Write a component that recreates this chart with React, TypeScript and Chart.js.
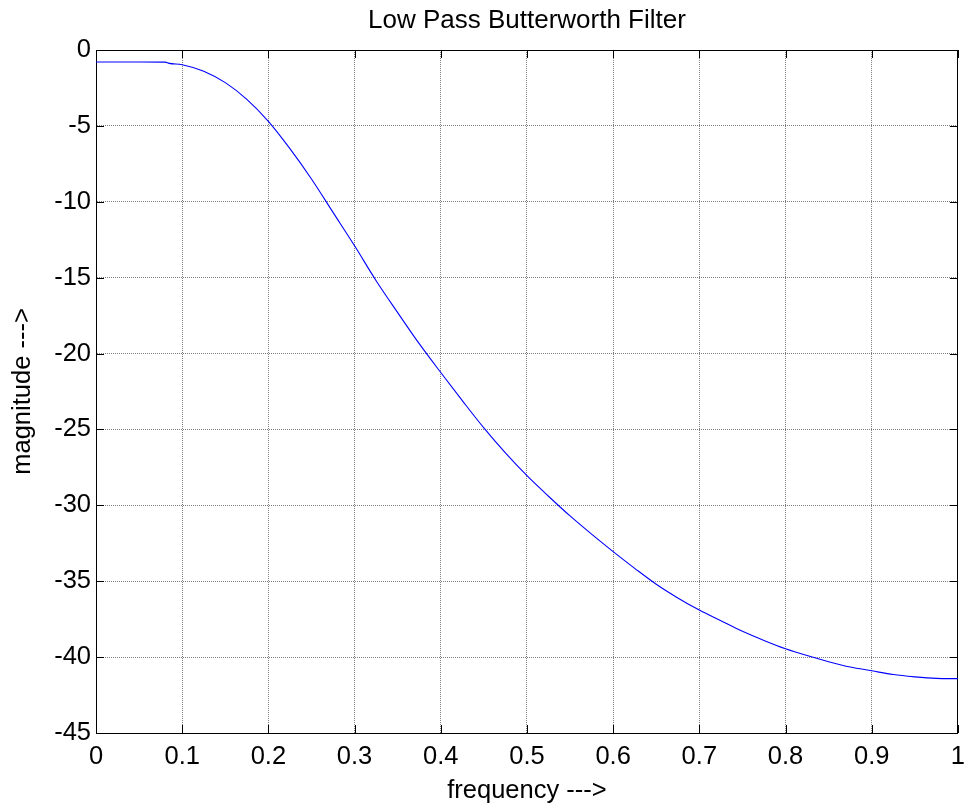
import React, { useEffect, useRef } from "react";
import { Chart, registerables } from "chart.js";

Chart.register(...registerables);

const TITLE = "Low Pass Butterworth Filter";
const X_LABEL = "frequency --->";
const Y_LABEL = "magnitude --->";

const frequency = [
  0, 0.05, 0.08, 0.085, 0.1, 0.125, 0.15, 0.175, 0.2, 0.225, 0.25, 0.275, 0.3,
  0.325, 0.35, 0.375, 0.4, 0.425, 0.45, 0.475, 0.5, 0.525, 0.55, 0.575, 0.6,
  0.625, 0.65, 0.675, 0.7, 0.725, 0.75, 0.775, 0.8, 0.825, 0.85, 0.875, 0.9,
  0.925, 0.95, 0.975, 1.0,
];
const magnitude = [
  -0.79, -0.79, -0.8, -0.88, -0.97, -1.4, -2.15, -3.25, -4.7, -6.5, -8.5, -10.7,
  -12.9, -15.2, -17.3, -19.35, -21.25, -23.1, -24.9, -26.55, -28.05, -29.4,
  -30.7, -31.9, -33.05, -34.15, -35.2, -36.1, -36.9, -37.6, -38.3, -38.9,
  -39.45, -39.9, -40.3, -40.65, -40.9, -41.15, -41.3, -41.4, -41.42,
];

const X_MIN = 0;
const X_MAX = 1;
const X_STEP = 0.1;
const Y_MIN = -45;
const Y_MAX = 0;
const Y_STEP = 5;

const FONT_FAMILY = "'Liberation Sans', Arial, Helvetica, sans-serif";

const inwardTicks = {
  id: "inwardTicks",
  afterDraw(chart: any) {
    const { ctx, chartArea, scales } = chart;
    const xs = scales.x;
    const ys = scales.y;
    const len = 8;
    ctx.save();
    ctx.strokeStyle = "#000";
    ctx.lineWidth = 1;
    ctx.beginPath();
    xs.ticks.forEach((t: any) => {
      const px = Math.round(xs.getPixelForValue(t.value)) + 0.5;
      ctx.moveTo(px, chartArea.bottom);
      ctx.lineTo(px, chartArea.bottom - len);
      ctx.moveTo(px, chartArea.top);
      ctx.lineTo(px, chartArea.top + len);
    });
    ys.ticks.forEach((t: any) => {
      const py = Math.round(ys.getPixelForValue(t.value)) + 0.5;
      ctx.moveTo(chartArea.left, py);
      ctx.lineTo(chartArea.left + len, py);
      ctx.moveTo(chartArea.right, py);
      ctx.lineTo(chartArea.right - len, py);
    });
    ctx.stroke();
    ctx.restore();
  },
};

export default function App() {
  const canvasRef = useRef<HTMLCanvasElement | null>(null);

  useEffect(() => {
    if (!canvasRef.current) return;
    const points = frequency.map((f, i) => ({ x: f, y: magnitude[i] }));
    const gridColor = "rgba(0,0,0,0.5)";
    const chart = new Chart(canvasRef.current, {
      type: "line",
      data: {
        datasets: [
          {
            data: points,
            borderColor: "#0000ff",
            borderWidth: 1.1,
            pointRadius: 0,
            fill: false,
            cubicInterpolationMode: "monotone",
            xAxisID: "x",
            yAxisID: "y",
          },
        ],
      },
      options: {
        responsive: false,
        animation: false,
        devicePixelRatio: 1,
        layout: { padding: 0 },
        plugins: {
          legend: { display: false },
          title: { display: false },
          tooltip: { enabled: false },
        },
        scales: {
          x: {
            type: "linear",
            position: "bottom",
            min: X_MIN,
            max: X_MAX,
            ticks: {
              stepSize: X_STEP,
              color: "#000",
              padding: 9,
              maxRotation: 0,
              font: { family: FONT_FAMILY, size: 25.5 },
              callback: (v: any) => String(parseFloat(Number(v).toFixed(1))),
            },
            grid: { color: gridColor, lineWidth: 1, drawTicks: false },
            border: { display: true, color: "#000", width: 1, dash: [1, 1] },
            title: {
              display: true,
              text: X_LABEL,
              color: "#000",
              font: { family: FONT_FAMILY, size: 25.5 },
              padding: { top: 0, bottom: 5 },
            },
            afterFit: (s: any) => {
              s.height = 78;
            },
          },
          xTop: {
            type: "linear",
            position: "top",
            min: X_MIN,
            max: X_MAX,
            ticks: { display: false },
            grid: { display: false, drawTicks: false },
            border: { display: true, color: "#000", width: 1 },
            title: {
              display: true,
              text: TITLE,
              color: "#000",
              font: { family: FONT_FAMILY, size: 26 },
              padding: { top: 5, bottom: 0 },
            },
            afterFit: (s: any) => {
              s.height = 50;
            },
          },
          y: {
            type: "linear",
            position: "left",
            min: Y_MIN,
            max: Y_MAX,
            ticks: {
              stepSize: Y_STEP,
              color: "#000",
              padding: 5,
              font: { family: FONT_FAMILY, size: 25.5 },
              callback: (v: any) => String(v),
            },
            grid: { color: gridColor, lineWidth: 1, drawTicks: false },
            border: { display: true, color: "#000", width: 1, dash: [1, 1] },
            title: {
              display: true,
              text: Y_LABEL,
              color: "#000",
              font: { family: FONT_FAMILY, size: 25.5 },
              padding: { top: 8, bottom: 0 },
            },
            afterFit: (s: any) => {
              s.width = 96;
            },
          },
          yRight: {
            type: "linear",
            position: "right",
            min: Y_MIN,
            max: Y_MAX,
            ticks: { display: false },
            grid: { display: false, drawTicks: false },
            border: { display: true, color: "#000", width: 1 },
            afterFit: (s: any) => {
              s.width = 8;
            },
          },
        },
      },
      plugins: [inwardTicks],
    });
    return () => chart.destroy();
  }, []);

  return (
    <div
      style={{
        position: "absolute",
        left: 0,
        top: 0,
        width: 974,
        height: 811,
        background: "#fff",
      }}
    >
      <canvas
        ref={canvasRef}
        width={974}
        height={811}
        style={{ width: 974, height: 811, display: "block" }}
      />
    </div>
  );
}
